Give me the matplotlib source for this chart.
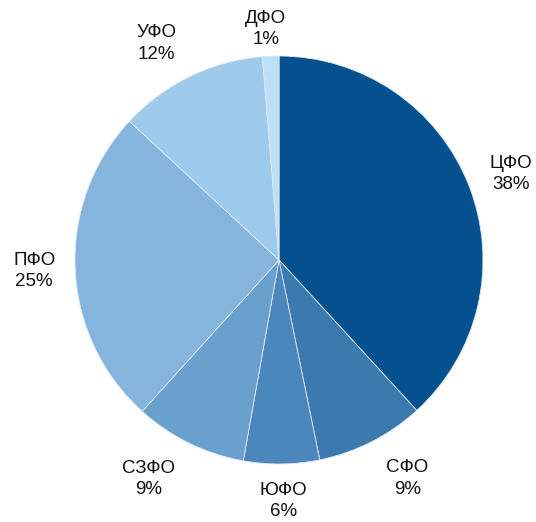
import matplotlib
matplotlib.use("Agg")
import numpy as np
import matplotlib.pyplot as plt

regions = ["ЦФО", "СФО", "ЮФО", "СЗФО", "ПФО", "УФО", "ДФО"]
shares = [38.2, 8.6, 6.0, 8.9, 25.2, 11.8, 1.3]
colors = ["#05508f", "#3b79ae", "#4b87bd", "#6aa0cd", "#85b5dd", "#9ecbeb", "#bde0f8"]
# label offsets from the wedge's outer edge midpoint, in pixels (layout only)
label_offsets = [(42, 12), (36, -37), (2, -37), (-41, -36), (-41, -2), (-33, 33), (-5, 27)]

plt.rcParams['font.family'] = ['Liberation Sans', 'DejaVu Sans']

fig = plt.figure(figsize=(5.36, 5.22), dpi=100)
W, H = 536, 522
cx, cy, r = 279, 260, 204
ax = fig.add_axes([(cx - r) / W, (H - cy - r) / H, 2 * r / W, 2 * r / H])

labels = [f"{n}\n{round(v)}%" for n, v in zip(regions, shares)]
wedges, _ = ax.pie(shares, colors=colors, startangle=90, counterclock=False,
                   wedgeprops=dict(edgecolor="#dbe9f5", linewidth=0.6))
for w, lab, off in zip(wedges, labels, label_offsets):
    ang = np.deg2rad((w.theta1 + w.theta2) / 2)
    x, y = w.r * np.cos(ang), w.r * np.sin(ang)
    ax.annotate(lab, xy=(x, y), xytext=off, textcoords='offset pixels',
                ha='center', va='center', multialignment='center',
                fontsize=13.5, color="#111111", linespacing=1.35)
ax.set_xlim(-1, 1)
ax.set_ylim(-1, 1)
ax.set_aspect('equal')
ax.axis('off')

fig.savefig("out.png", dpi=100)
